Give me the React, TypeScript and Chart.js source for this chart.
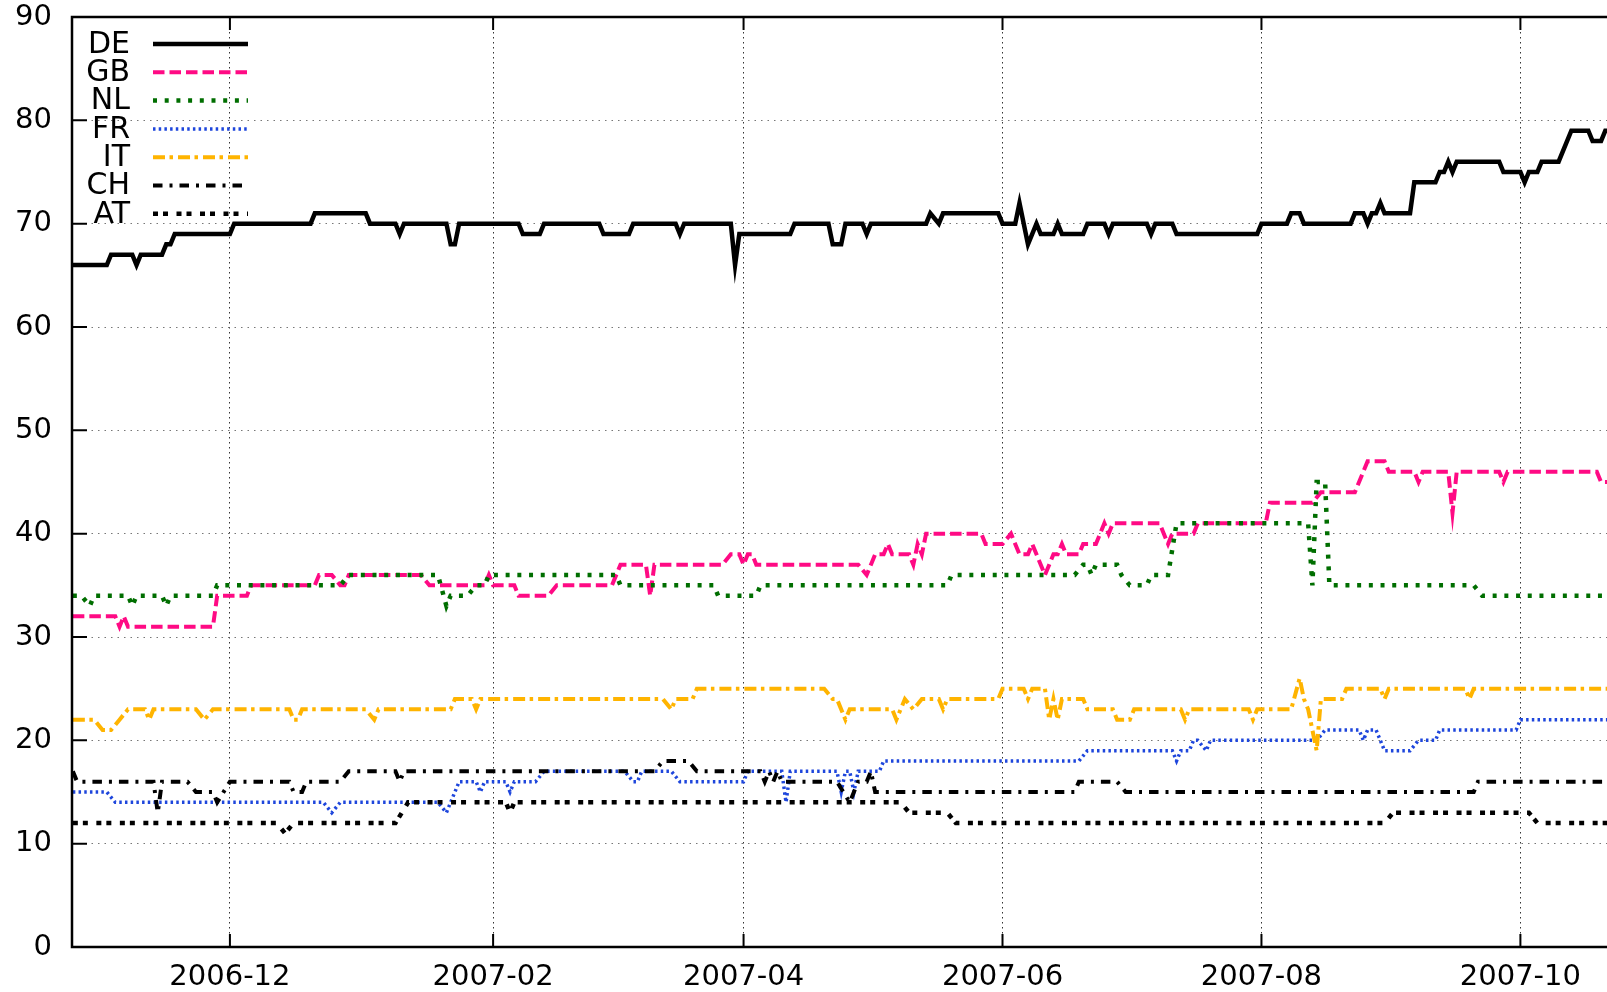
import React, { useEffect, useRef } from "react";
import { Chart, registerables } from "chart.js";

Chart.register(...registerables);

// x values are days counted from this origin date
const X_ORIGIN = "2006-12-01";
const X_MIN = -37.2;
const X_MAX = 324.4;
const X_TICK_LABELS = ["2006-12", "2007-02", "2007-04", "2007-06", "2007-08", "2007-10"];
const Y_TICKS = [0, 10, 20, 30, 40, 50, 60, 70, 80, 90];

const SERIES_NAMES = ["DE", "GB", "NL", "FR", "IT", "CH", "AT"];

// [day since 2006-12-01, value]
const DE: [number, number][] = [
  [-37, 66], [-29, 66], [-28, 67], [-23, 67], [-22, 66], [-21, 67], [-16, 67], [-15, 68], [-14, 68], [-13, 69],
  [0, 69], [1, 70], [19, 70], [20, 71], [32, 71], [33, 70], [39, 70], [40, 69], [41, 70], [51, 70], [52, 68],
  [53, 68], [54, 70], [68, 70], [69, 69], [73, 69], [74, 70], [87, 70], [88, 69], [94, 69], [95, 70], [105, 70],
  [106, 69], [107, 70], [118, 70], [119, 66], [120, 69], [132, 69], [133, 70], [141, 70], [142, 68], [144, 68],
  [145, 70], [149, 70], [150, 69], [151, 70], [164, 70], [165, 71], [167, 70], [168, 71], [181, 71], [182, 70],
  [185, 70], [186, 72], [188, 68], [190, 70], [191, 69], [194, 69], [195, 70], [196, 69], [201, 69], [202, 70],
  [206, 70], [207, 69], [208, 70], [216, 70], [217, 69], [218, 70], [222, 70], [223, 69], [242, 69], [243, 70],
  [249, 70], [250, 71], [252, 71], [253, 70], [264, 70], [265, 71], [267, 71], [268, 70], [269, 71], [270, 71],
  [271, 72], [272, 71], [278, 71], [279, 74], [284, 74], [285, 75], [286, 75], [287, 76], [288, 75], [289, 76],
  [299, 76], [300, 75], [304, 75], [305, 74], [306, 75], [308, 75], [309, 76], [313, 76], [316, 79], [320, 79],
  [321, 78], [323, 78], [324, 79], [326, 79],
];

const GB: [number, number][] = [
  [-37, 32], [-27, 32], [-26, 31], [-25, 32], [-24, 31], [-4, 31], [-3, 34], [4, 34], [5, 35], [20, 35], [21, 36],
  [24, 36], [26, 35], [27, 35], [28, 36], [45, 36], [47, 35], [60, 35], [61, 36], [62, 35], [67, 35], [68, 34],
  [75, 34], [77, 35], [90, 35], [92, 37], [98, 37], [99, 34], [100, 37], [116, 37], [118, 38], [120, 38], [121, 37],
  [122, 38], [123, 38], [124, 37], [148, 37], [150, 36], [151, 37], [152, 38], [154, 38], [155, 39], [156, 38],
  [160, 38], [161, 37], [162, 39], [163, 38], [164, 40], [177, 40], [178, 39], [182, 39], [184, 40], [186, 38],
  [188, 38], [189, 39], [190, 38], [192, 36], [194, 38], [195, 38], [196, 39], [197, 38], [200, 38], [201, 39],
  [204, 39], [205, 40], [206, 41], [207, 40], [208, 41], [219, 41], [220, 40], [221, 39], [222, 40], [227, 40],
  [228, 41], [244, 41], [245, 43], [255, 43], [257, 44], [265, 44], [268, 47], [272, 47], [273, 46], [279, 46],
  [280, 45], [281, 46], [287, 46], [288, 42], [289, 46], [299, 46], [300, 45], [301, 46], [322, 46], [323, 45],
  [326, 45],
];

const NL: [number, number][] = [
  [-37, 34], [-35, 34], [-33, 33], [-32, 34], [-24, 34], [-23, 33], [-22, 34], [-16, 34], [-15, 33], [-14, 34],
  [-4, 34], [-3, 35], [26, 35], [28, 36], [49, 36], [51, 33], [52, 34], [56, 34], [58, 35], [60, 35], [61, 36],
  [91, 36], [92, 35], [114, 35], [115, 34], [124, 34], [125, 35], [169, 35], [170, 36], [199, 36], [201, 37],
  [202, 37], [203, 36], [204, 37], [209, 37], [210, 36], [212, 35], [216, 35], [217, 36], [221, 36], [223, 41],
  [254, 41], [255, 35], [256, 45], [258, 45], [259, 35], [293, 35], [295, 34], [326, 34],
];

const FR: [number, number][] = [
  [-37, 15], [-29, 15], [-27, 14], [22, 14], [24, 13], [26, 14], [49, 14], [51, 13], [52, 14], [54, 16], [58, 16],
  [59, 15], [60, 16], [65, 16], [66, 15], [67, 16], [72, 16], [74, 17], [93, 17], [95, 16], [96, 16], [97, 17],
  [104, 17], [106, 16], [121, 16], [122, 17], [130, 17], [131, 14], [132, 17], [143, 17], [144, 15], [145, 17],
  [146, 17], [147, 15], [148, 17], [153, 17], [154, 18], [200, 18], [202, 19], [222, 19], [223, 18], [224, 19],
  [226, 19], [227, 20], [228, 20], [230, 19], [231, 20], [256, 20], [258, 21], [266, 21], [267, 20], [268, 21],
  [270, 21], [272, 19], [278, 19], [280, 20], [284, 20], [285, 21], [303, 21], [304, 22], [326, 22],
];

const IT: [number, number][] = [
  [-37, 22], [-32, 22], [-30, 21], [-28, 21], [-26, 22], [-24, 23], [-20, 23], [-19, 22], [-18, 23], [-8, 23],
  [-6, 22], [-4, 23], [14, 23], [15, 22], [16, 22], [17, 23], [32, 23], [34, 22], [35, 23], [52, 23], [53, 24],
  [57, 24], [58, 23], [59, 24], [102, 24], [104, 23], [105, 24], [109, 24], [110, 25], [140, 25], [142, 24],
  [143, 24], [145, 22], [146, 23], [156, 23], [157, 22], [158, 23], [159, 24], [161, 23], [163, 24], [167, 24],
  [168, 23], [169, 24], [181, 24], [182, 25], [187, 25], [188, 24], [189, 25], [192, 25], [193, 22], [194, 24],
  [195, 22], [196, 24], [201, 24], [202, 23], [208, 23], [209, 22], [212, 22], [213, 23], [224, 23], [225, 22],
  [226, 23], [240, 23], [241, 22], [242, 23], [250, 23], [252, 26], [253, 24], [254, 23], [256, 19], [257, 24],
  [262, 24], [263, 25], [271, 25], [272, 24], [273, 25], [291, 25], [292, 24], [293, 25], [326, 25],
];

const CH: [number, number][] = [
  [-37, 17], [-36, 16], [-18, 16], [-17, 13], [-16, 16], [-10, 16], [-8, 15], [-4, 15], [-3, 14], [0, 16],
  [14, 16], [15, 15], [17, 15], [18, 16], [26, 16], [28, 17], [39, 17], [40, 16], [41, 17], [100, 17], [102, 18],
  [108, 18], [110, 17], [125, 17], [126, 16], [127, 17], [128, 16], [129, 17], [130, 16], [143, 16], [146, 14],
  [148, 16], [150, 16], [151, 17], [152, 15], [199, 15], [200, 16], [209, 16], [211, 15], [293, 15], [294, 16],
  [326, 16],
];

const AT: [number, number][] = [
  [-37, 12], [11, 12], [13, 11], [15, 12], [39, 12], [42, 14], [65, 14], [66, 13], [67, 14], [158, 14], [160, 13],
  [169, 13], [171, 12], [272, 12], [274, 13], [306, 13], [308, 12], [326, 12],
];

const SERIES_DATA = [DE, GB, NL, FR, IT, CH, AT];
const SERIES_COLORS = ["#000000", "#ff0a84", "#006e00", "#1e46dc", "#ffb400", "#000000", "#000000"];
const SERIES_WIDTHS = [4.5, 4, 4.5, 3.5, 4, 4, 4.5];
const SERIES_DASHES: number[][] = [[], [11.5, 5], [4, 7.7], [2.5, 3.2], [12, 4.5, 3.5, 5], [9.5, 7, 3, 7], [5, 5, 5, 8.5]];

const FONT = "DejaVu Sans";

function dayOf(label: string): number {
  const [y, m] = label.split("-").map(Number);
  const [oy, om, od] = X_ORIGIN.split("-").map(Number);
  return (Date.UTC(y, m - 1, 1) - Date.UTC(oy, om - 1, od)) / 86400000;
}

const framePlugin = {
  id: "gnuplotFrame",
  afterDatasetsDraw(chart: any) {
    const { ctx, chartArea } = chart;
    const { left, top, bottom, right } = chartArea;
    const xs = chart.scales.x;
    const ys = chart.scales.y;
    ctx.save();
    ctx.setLineDash([]);
    ctx.strokeStyle = "#000";
    ctx.lineWidth = 2.5;
    ctx.beginPath();
    ctx.moveTo(right + 10, top);
    ctx.lineTo(left, top);
    ctx.lineTo(left, bottom);
    ctx.lineTo(right + 10, bottom);
    ctx.stroke();
    ctx.lineWidth = 2;
    ctx.beginPath();
    for (const v of Y_TICKS) {
      const py = ys.getPixelForValue(v);
      ctx.moveTo(left, py);
      ctx.lineTo(left + 15, py);
    }
    for (const l of X_TICK_LABELS) {
      const px = xs.getPixelForValue(dayOf(l));
      ctx.moveTo(px, bottom);
      ctx.lineTo(px, bottom - 13);
      ctx.moveTo(px, top);
      ctx.lineTo(px, top + 13);
    }
    ctx.stroke();
    ctx.restore();
  },
  afterDraw(chart: any) {
    const { ctx } = chart;
    ctx.save();
    chart.data.datasets.forEach((ds: any, i: number) => {
      const y = 44 + i * 28.3;
      ctx.font = `30px "${FONT}"`;
      ctx.fillStyle = "#000";
      ctx.textAlign = "right";
      ctx.textBaseline = "middle";
      ctx.fillText(ds.label, 130, y + 1);
      ctx.strokeStyle = ds.borderColor;
      ctx.lineWidth = ds.borderWidth;
      ctx.setLineDash(ds.borderDash || []);
      ctx.lineCap = "butt";
      ctx.beginPath();
      ctx.moveTo(153, y);
      ctx.lineTo(248, y);
      ctx.stroke();
    });
    ctx.restore();
  },
};

export default function App() {
  const ref = useRef<HTMLCanvasElement | null>(null);

  useEffect(() => {
    if (!ref.current) return;
    const datasets = SERIES_NAMES.map((name, i) => ({
      label: name,
      data: SERIES_DATA[i].map(([x, y]) => ({ x, y })),
      borderColor: SERIES_COLORS[i],
      backgroundColor: SERIES_COLORS[i],
      borderWidth: SERIES_WIDTHS[i],
      borderDash: SERIES_DASHES[i],
      borderJoinStyle: "miter" as const,
      borderCapStyle: "butt" as const,
      pointRadius: 0,
      tension: 0,
      fill: false,
      order: SERIES_NAMES.length - i,
    }));
    const chart = new Chart(ref.current, {
      type: "line",
      data: { datasets },
      options: {
        animation: false,
        responsive: false,
        maintainAspectRatio: false,
        layout: { padding: { top: 17, left: 0, right: 0, bottom: 0 } },
        plugins: { legend: { display: false }, tooltip: { enabled: false } },
        scales: {
          x: {
            type: "linear",
            min: X_MIN,
            max: X_MAX,
            afterBuildTicks: (s: any) => {
              s.ticks = X_TICK_LABELS.map((l) => ({ value: dayOf(l) }));
            },
            afterFit: (s: any) => {
              s.height = 45;
              s.paddingLeft = 0;
              s.paddingRight = 0;
            },
            ticks: {
              autoSkip: false,
              maxRotation: 0,
              padding: 13,
              color: "#000",
              font: { family: FONT, size: 29 },
              callback: (v: any) => {
                const found = X_TICK_LABELS.find((l) => Math.abs(dayOf(l) - Number(v)) < 0.01);
                return found ?? "";
              },
            },
            grid: { color: "#333", lineWidth: 1, drawTicks: false },
            border: { display: false, dash: [1.5, 3.5] },
          },
          y: {
            min: 0,
            max: 90,
            afterBuildTicks: (s: any) => {
              s.ticks = Y_TICKS.map((v) => ({ value: v }));
            },
            afterFit: (s: any) => {
              s.width = 72;
              s.paddingTop = 0;
              s.paddingBottom = 0;
            },
            ticks: {
              padding: 20,
              color: "#000",
              font: { family: FONT, size: 29, lineHeight: 1.0 },
            },
            grid: { color: "#777", lineWidth: 1, drawTicks: false },
            border: { display: false, dash: [1.5, 5] },
          },
        },
      },
      plugins: [framePlugin],
    });
    return () => chart.destroy();
  }, []);

  return (
    <div style={{ position: "fixed", left: 0, top: 0, width: "1607px", height: "992px", background: "#fff" }}>
      <canvas ref={ref} width={1607} height={992} style={{ display: "block" }} />
    </div>
  );
}
